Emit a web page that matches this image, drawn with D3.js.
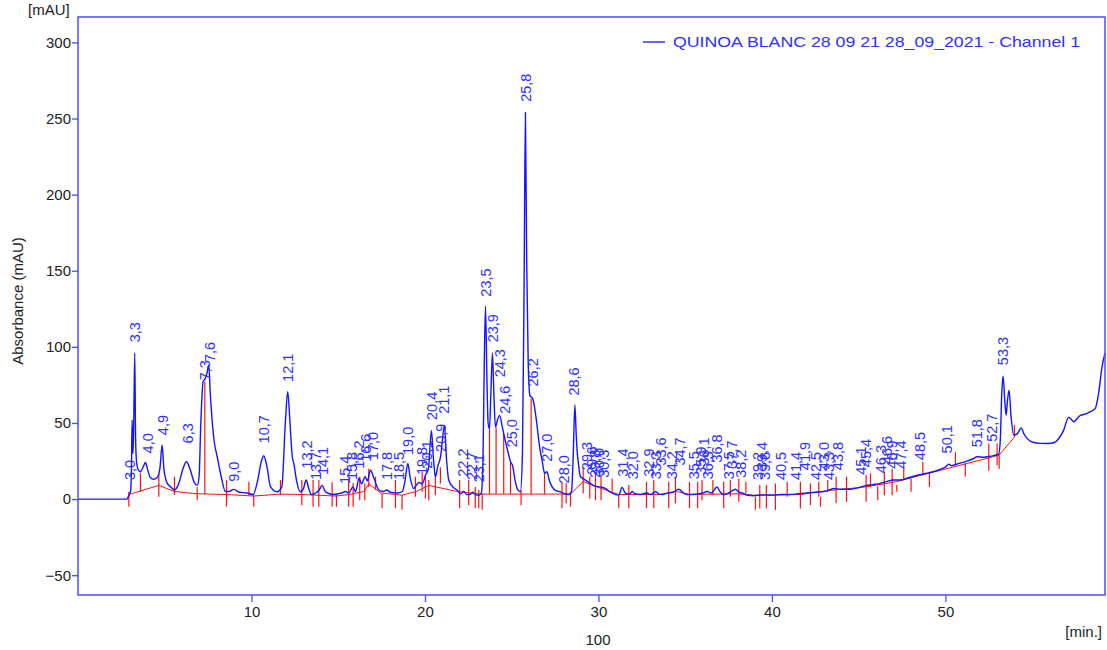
<!DOCTYPE html>
<html>
<head>
<meta charset="utf-8">
<script src="https://cdn.jsdelivr.net/npm/d3@7"></script>
<style>
  html, body { margin: 0; padding: 0; background: #fff; }
  svg { display: block; }
  text { font-family: "Liberation Sans", Arial, sans-serif; }
</style>
</head>
<body>
<svg id="chart" width="1107" height="650"></svg>
<script>
// Chromatogram trace: [retention time (min), absorbance (mAU)]
const trace = [
  [0,0],[2.8,0],[2.88,1],[2.95,3],[3.03,5],[3.08,20],[3.12,52],[3.16,30],[3.2,40],[3.27,96],
  [3.32,40],[3.37,25],[3.45,20],[3.6,18],[3.75,21],[3.89,24],[4.0,20],[4.18,14],[4.35,13],[4.55,14],
  [4.72,20],[4.85,35.5],[4.95,20],[5.14,10.5],[5.35,8],[5.56,6],[5.8,10],[6.05,20],[6.25,24.5],[6.45,20],
  [6.7,11],[6.87,9],[6.98,15],[7.08,50],[7.21,77],[7.33,79],[7.42,82],[7.54,88],[7.62,70],[7.73,52],
  [7.85,38],[8.02,28],[8.25,15],[8.5,5],[8.7,5],[8.98,6.4],[9.3,4.5],[9.75,4],[10.1,3],[10.35,12],
  [10.55,24],[10.71,28.5],[10.88,22],[11.1,8],[11.48,4.8],[11.75,8],[11.95,50],[12.09,70.5],[12.22,50],[12.35,28],
  [12.44,23.4],[12.6,12],[12.82,4.8],[13.0,7],[13.15,12.5],[13.3,7],[13.45,3],[13.7,4],[13.9,6],[14.07,9],
  [14.25,5],[14.5,3.5],[14.73,3],[15.0,3.5],[15.2,4],[15.42,5],[15.6,4],[15.85,8],[16.0,5],[16.2,13.8],
  [16.35,10],[16.55,14.7],[16.68,12],[16.86,19],[17.05,14],[17.34,6],[17.6,5],[17.8,6],[18.0,4.5],[18.4,4],
  [18.7,5],[18.85,12],[19.01,23.4],[19.15,14],[19.36,7],[19.5,9],[19.65,11],[19.85,10],[20.03,15.8],[20.2,20],
  [20.37,45],[20.5,25],[20.6,14.7],[20.75,22],[20.9,28],[21.0,38],[21.12,48.6],[21.25,25],[21.37,12.5],[21.6,8],
  [21.85,6],[22.05,3.5],[22.24,5],[22.4,3],[22.6,3],[22.75,4.5],[22.9,3],[23.1,2.5],[23.25,4],[23.35,30],
  [23.42,90],[23.49,126.8],[23.57,80],[23.64,50],[23.72,46],[23.8,70],[23.89,96],[23.97,70],[24.06,47.5],[24.18,52],
  [24.3,55],[24.45,48],[24.54,43],[24.7,35],[24.85,28],[24.93,24.5],[25.05,22],[25.2,12],[25.35,6],[25.5,4.8],
  [25.62,30],[25.72,150],[25.79,254],[25.86,160],[25.95,90],[26.05,68],[26.21,66],[26.35,58],[26.47,47.5],[26.6,35],
  [26.75,25.6],[26.9,17],[27.04,18],[27.15,13],[27.33,8],[27.55,5.5],[27.81,4.8],[28.05,3.5],[28.3,3],[28.45,5],
  [28.55,30],[28.64,61.8],[28.72,42],[28.77,32],[28.86,22],[28.96,14.7],[29.1,13.6],[29.25,12.5],[29.54,10.3],[29.8,8.5],
  [30.12,8],[30.4,7],[30.7,4.5],[31.17,2.6],[31.36,7.7],[31.55,4],[31.8,3.3],[31.94,5],[32.1,3.5],[32.42,3],
  [32.8,4],[33.0,3],[33.29,4.8],[33.5,3.3],[33.7,3],[33.96,3.9],[34.3,4.5],[34.63,6.5],[34.9,4],[35.11,3],
  [35.4,3],[35.8,3.5],[36.0,4],[36.27,5],[36.5,4],[36.84,7.9],[37.0,5],[37.2,3],[37.5,4],[37.9,6.5],
  [38.1,4.5],[38.3,4],[38.6,2.5],[38.95,2.2],[39.5,2.8],[40.0,2.6],[40.5,3],[41.0,3],[41.5,3.5],[42.0,4],
  [42.5,4.5],[43.0,5],[43.3,6],[43.56,7],[44.0,6.5],[44.5,6.5],[45.0,7.5],[45.3,8.5],[45.8,9.5],[46.25,10.3],
  [46.6,11.5],[47.0,12.5],[47.4,12.5],[47.8,13.7],[48.5,16],[48.95,17],[49.7,19.5],[50.05,21.5],[50.19,23],[50.35,22],
  [50.8,23.5],[51.25,25],[51.6,26.5],[51.83,27.8],[52.2,27.5],[52.6,28.2],[53.07,29.5],[53.17,40],[53.25,70],[53.33,80.8],
  [53.42,65],[53.5,55],[53.58,65],[53.67,71.6],[53.78,55],[53.94,42],[54.15,43],[54.37,46.8],[54.52,43],[54.71,39.9],
  [55.0,37.5],[55.48,36.6],[55.9,36.5],[56.24,37],[56.55,40],[56.82,45.3],[57.1,53.7],[57.25,52.5],[57.4,50.8],[57.6,53],
  [57.78,55],[58.1,56],[58.35,57.4],[58.64,59.6],[58.83,69.4],[59.03,87],[59.2,96]
];

// Integration baseline: [time, mAU]
const baseline = [
  [2.93,3],[4.66,9],[5.56,5],[6.87,3.5],[8.56,3],[10.13,2],[11.67,3.3],[12.9,3],[14.9,2],[15.6,3],
  [16.5,5],[16.76,10],[17.45,4],[18.68,2.6],[19.5,5],[20.22,9],[21.85,5],[23.2,3.3],[25.54,3.3],[28.39,3.3],
  [29.12,11.5],[30.15,7],[31.17,3],[33.5,3],[34.5,5],[35.25,3],[38.0,3.5],[39.0,2.5],[41.64,3],[43.2,5.5],
  [45.4,8],[47.2,11.5],[48.7,16],[50.6,21.5],[52.5,27],[53.1,29],[54.0,41]
];

// Peak boundary markers: [time, upper mAU, lower mAU]
const markers = [
  [2.93,4.8,-5],[3.6,17,4.8],[4.66,17,1.5],[5.56,14.7,2.6],[6.87,8,-0.7],[7.31,77,3.3],[8.56,12.5,-5],[9.85,11.4,2.6],
  [10.13,2.6,-5],[11.67,12.5,2.6],[12.9,12.5,-4],[13.55,12.5,-5],[13.88,12.5,-5],[14.65,11,-5],[14.9,3,-5],[15.6,12.5,-5],
  [15.86,10.5,-5],[16.24,14.7,-0.7],[16.53,10.3,-0.7],[16.76,20,8],[17.15,14.7,6],[17.53,3.7,-6],[18.3,12.5,-6],[18.68,2.6,-7],
  [19.45,14.7,1.5],[19.84,18,4.8],[20.03,14.7,0.4],[20.22,12.5,-0.7],[20.6,17,2.6],[20.89,21,10.3],[22.0,12.5,-6],[22.52,12.5,-4],
  [22.9,8,-6],[23.1,6,-6],[23.3,3.7,-7],[23.72,46,3.3],[24.1,47.5,3.3],[24.54,43,3.3],[24.93,24.5,3.3],[25.54,6,-4],
  [26.12,66,3.3],[26.89,18,3.3],[27.9,11.4,-6],[28.14,10.7,-2.8],[28.39,4.8,-5],[29.12,21,3.7],[29.5,14.7,0.4],[29.83,15.8,-0.7],
  [30.15,14.7,-0.7],[30.79,13.6,4.8],[31.17,2.6,-6],[31.75,9.2,-6],[32.77,11.4,-6],[33.19,12.5,-6],[34.05,11.4,-6],[34.44,14.7,-2.8],
  [35.25,11.4,-6],[35.72,11.4,-6],[35.97,12.5,-0.7],[36.6,12.5,2.6],[37.22,11.4,-6],[37.6,12.5,1.5],[38.09,13.6,-1.8],[38.5,11.4,3.7],
  [39.05,1.5,-7],[39.3,9.2,-6.1],[39.68,9.2,-6.1],[40.2,10.3,-7.2],[40.88,11.4,1.5],[41.64,11.4,-6.1],[42.22,10.3,-3.9],[42.7,11.4,1.5],
  [42.8,1.5,-5],[43.22,12.5,4.8],[43.7,14.7,-2.8],[44.3,14.7,-1.8],[45.43,15.8,-1.8],[45.68,16.9,8],[46.1,8.5,-0.7],[46.48,18,2.6],
  [46.93,20,2.6],[47.2,9.2,4.8],[47.6,21.2,12.5],[48.02,13.6,4.8],[48.7,24.5,15.8],[49.08,16.9,8],[50.58,31,22.3],[51.15,23.4,14.7],
  [52.5,36.6,18.6],[52.98,36.6,22.3],[53.1,29,20],[53.98,48.6,41]
];

// Peak labels: retention time (min) and the mAU level where each label starts
const peakTimes = [
  3.0,3.3,4.0,4.9,6.3,7.3,7.6,9.0,10.7,12.1,13.2,13.7,14.1,15.4,15.8,16.2,16.6,17.0,17.8,18.5,
  19.0,19.8,20.1,20.4,20.9,21.1,22.2,22.7,23.1,23.5,23.9,24.3,24.6,25.0,25.8,26.2,27.0,28.0,28.6,29.3,
  29.6,29.8,30.0,30.3,31.4,32.0,32.9,33.3,33.6,34.2,34.7,35.5,35.9,36.1,36.3,36.8,37.5,37.7,38.2,39.2,
  39.4,39.6,40.5,41.4,41.9,42.5,43.0,43.3,43.8,45.1,45.4,46.3,46.6,46.9,47.4,48.5,50.1,51.8,52.7,53.3
];
const labelLevels = [
  12.5,103,30,42,36.6,78,90,11.4,36.6,77,20,12.5,15.8,10,12.5,20,24.5,25.6,12.5,12.5,
  29,15.8,20,52,31,56,14.7,12.5,11,133,103,80,56,34,261,74,24.5,10.3,68,19,
  16,14,15,14,14.7,13,14.7,13,22,13,22,13,16,22,13,24,13,20,14,12.5,
  19,12.5,12.5,12.5,19,12.5,19,12.5,19,16,21,17,23,20,20,25.6,30,34,37.6,88
];

const yTicks = [-50, 0, 50, 100, 150, 200, 250, 300];
const xTicks = [10, 20, 30, 40, 50];
const legendText = "QUINOA BLANC 28 09 21 28_09_2021 -  Channel 1";

const svg = d3.select("#chart");
const frameColor = "#4b4bff";
const traceColor = "#1414ff";
const labelColor = "#3030ff";
const red = "#ff1010";

const x = d3.scaleLinear().domain([0, 59.2]).range([78, 1105]);
const y = d3.scaleLinear().domain([-63, 316.7]).range([595, 17]);

// Axes
const yAxis = svg.append("g").attr("transform", "translate(78,0)")
  .call(d3.axisLeft(y).tickValues(yTicks).tickSize(6).tickPadding(1));
const xAxis = svg.append("g").attr("transform", "translate(0,595)")
  .call(d3.axisBottom(x).tickValues(xTicks).tickSize(7).tickPadding(4));
[yAxis, xAxis].forEach(g => {
  g.select(".domain").remove();
  g.selectAll(".tick line").attr("stroke", frameColor).attr("stroke-width", 1.3);
  g.selectAll(".tick text").attr("fill", "#222").style("font-size", "15px")
    .style("font-family", "'Liberation Sans', Arial, sans-serif");
});

// Baseline and boundary markers
const line = d3.line().x(d => x(d[0])).y(d => y(d[1]));
svg.append("path").datum(baseline)
  .attr("d", line).attr("fill", "none").attr("stroke", red).attr("stroke-width", 1);
svg.append("g").selectAll("line").data(markers).join("line")
  .attr("x1", d => x(d[0])).attr("x2", d => x(d[0]))
  .attr("y1", d => y(d[1])).attr("y2", d => y(d[2]))
  .attr("stroke", red).attr("stroke-width", 1.2);

// Signal trace
svg.append("path").datum(trace)
  .attr("d", d3.line().x(d => x(d[0])).y(d => y(d[1])).curve(d3.curveMonotoneX))
  .attr("fill", "none").attr("stroke", traceColor).attr("stroke-width", 1.4)
  .attr("stroke-linejoin", "round");

// Peak labels
const fmt = t => d3.format(".1f")(t).replace(".", ",");
svg.append("g").selectAll("text").data(peakTimes).join("text")
  .attr("transform", (t, i) => `translate(${x(t)},${y(labelLevels[i])}) rotate(-90)`)
  .attr("dy", "0.36em")
  .attr("fill", labelColor)
  .style("font-size", "14.5px")
  .text(t => fmt(t));

// Plot frame
svg.append("rect").attr("x", 78).attr("y", 17).attr("width", 1027).attr("height", 578)
  .attr("fill", "none").attr("stroke", frameColor).attr("stroke-width", 1.5);

// Legend
svg.append("line").attr("x1", 643).attr("x2", 665).attr("y1", 42).attr("y2", 42)
  .attr("stroke", traceColor).attr("stroke-width", 1.3);
svg.append("text").attr("x", 673).attr("y", 47).attr("fill", labelColor)
  .attr("textLength", 407).attr("lengthAdjust", "spacingAndGlyphs")
  .style("font-size", "14px").text(legendText);

// Axis titles and units
svg.append("text").attr("x", 28).attr("y", 15).attr("fill", "#222")
  .style("font-size", "15px").text("[mAU]");
svg.append("text").attr("transform", "translate(23,301) rotate(-90)")
  .attr("text-anchor", "middle").attr("fill", "#222").style("font-size", "15px")
  .text("Absorbance (mAU)");
svg.append("text").attr("x", 1102).attr("y", 637).attr("text-anchor", "end").attr("fill", "#222")
  .style("font-size", "15px").text("[min.]");
svg.append("text").attr("x", 598).attr("y", 645).attr("text-anchor", "middle").attr("fill", "#222")
  .style("font-size", "15px").text("100");
</script>
</body>
</html>
